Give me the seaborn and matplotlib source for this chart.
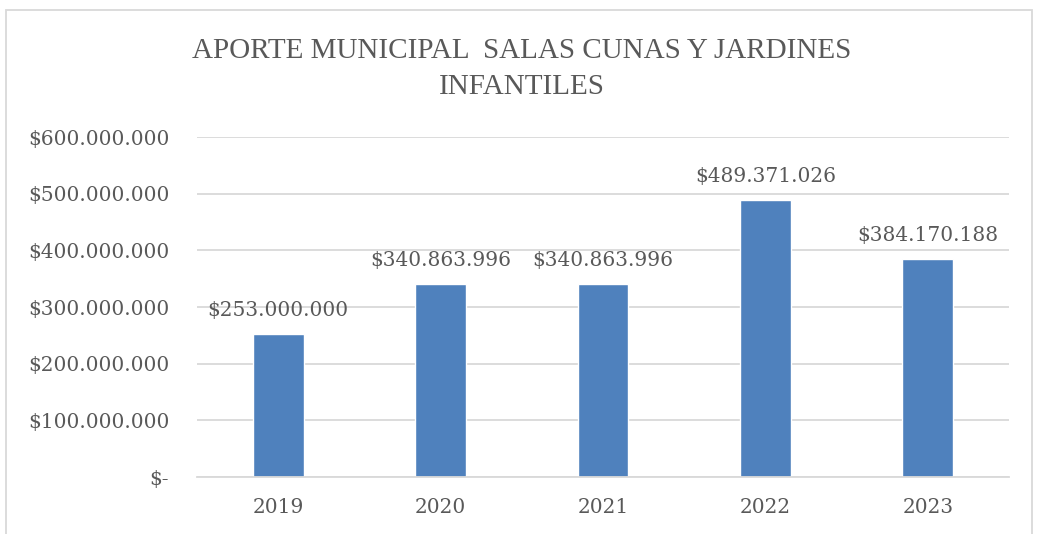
import matplotlib
matplotlib.use("Agg")
import pandas as pd
import seaborn as sns
from matplotlib import pyplot as plt
from matplotlib.patches import Rectangle

years = ["2019", "2020", "2021", "2022", "2023"]
aporte = [253000000, 340863996, 340863996, 489371026, 384170188]
yticks = [0, 100000000, 200000000, 300000000, 400000000, 500000000, 600000000]

df = pd.DataFrame({"year": years, "aporte": aporte})

sns.set_theme(style="white")
plt.rcParams["font.family"] = ["DejaVu Serif"]
gray = "#595959"


def pesos(v):
    if v == 0:
        return "$-"
    return "$" + f"{int(v):,}".replace(",", ".")


fig = plt.figure(figsize=(10.37, 5.34), dpi=100)
ax = fig.add_axes([197 / 1037, 1 - 477 / 534, 812 / 1037, 340 / 534])

sns.barplot(data=df, x="year", y="aporte", color="#4F81BD", saturation=1,
            width=0.314, ax=ax)

ax.set_ylim(0, 600000000)
ax.set_xlim(-0.5, 4.5)
ax.set_yticks(yticks)
ax.set_yticklabels([pesos(v) for v in yticks])
ax.yaxis.grid(True, color="#D9D9D9", linewidth=1.3)
ax.set_axisbelow(True)
for s in ["top", "right", "left"]:
    ax.spines[s].set_visible(False)
ax.spines["bottom"].set_color("#D9D9D9")
ax.spines["bottom"].set_linewidth(1.3)
ax.set_xlabel("")
ax.set_ylabel("")
ax.tick_params(axis="both", length=0, labelsize=14.5, colors=gray)
ax.tick_params(axis="y", pad=20)
ax.tick_params(axis="x", pad=15)

ax.bar_label(ax.containers[0], labels=[pesos(v) for v in aporte],
             padding=10, fontsize=14.5, color=gray)

fig.text(0.503, 0.871, "APORTE MUNICIPAL  SALAS CUNAS Y JARDINES\nINFANTILES",
         ha="center", va="center", fontsize=21, color=gray, linespacing=1.5,
         family="Liberation Serif")

fig.patches.append(Rectangle((6 / 1037, -0.05), 1026 / 1037, 1 - 10 / 534 + 0.05,
                             transform=fig.transFigure, fill=False,
                             edgecolor="#D9D9D9", linewidth=1.3))

fig.savefig("out.png", dpi=100)
